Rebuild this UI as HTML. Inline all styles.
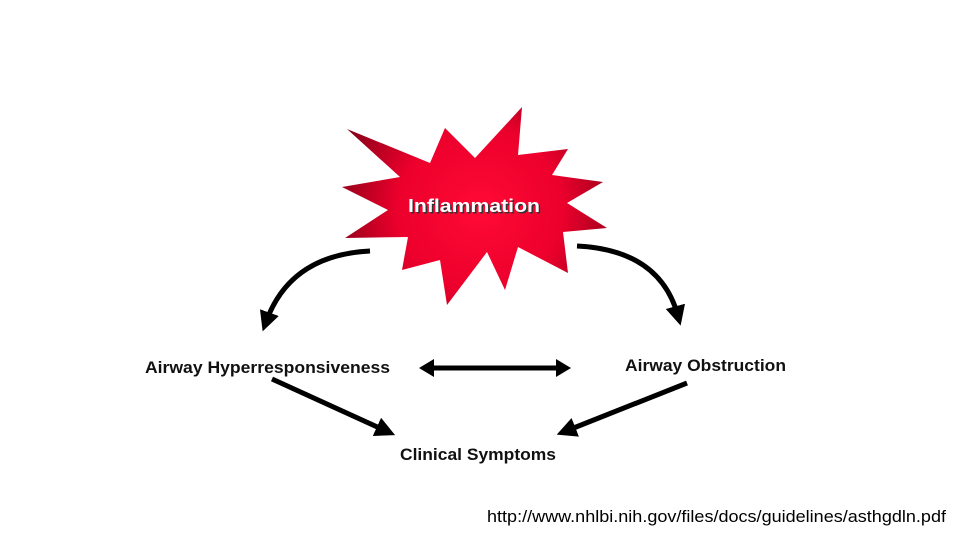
<!DOCTYPE html>
<html><head><meta charset="utf-8"><style>
html,body{margin:0;padding:0;background:#fff;}
svg{display:block;}
</style></head><body>
<svg width="960" height="540" viewBox="0 0 960 540" xmlns="http://www.w3.org/2000/svg">
<defs>
<radialGradient id="g" cx="480" cy="210" r="150" gradientUnits="userSpaceOnUse">
<stop offset="0" stop-color="#ff0a35"/>
<stop offset="0.55" stop-color="#ec002c"/>
<stop offset="1" stop-color="#8a0018"/>
</radialGradient>
<marker id="ah" markerWidth="4" markerHeight="4" refX="2" refY="2" orient="auto" markerUnits="strokeWidth">
<path d="M0,0 L4,2 L0,4 z" fill="#000"/>
</marker>
</defs>
<polygon fill="url(#g)" points="347,129 430,163 445,128 475,158 522,107 518,155 568,149 552,175 603,182 567,203 607,228 563,232 568,273 518,247 505,290 487,252 447,305 440,260 402,270 408,237 345,238 388,210 342,187 400,177"/>
<text x="408" y="212" textLength="132" lengthAdjust="spacingAndGlyphs" font-family="Liberation Sans, sans-serif" font-weight="bold" font-size="18" fill="#333" transform="translate(1.5,1.5)">Inflammation</text>
<text x="408" y="212" textLength="132" lengthAdjust="spacingAndGlyphs" font-family="Liberation Sans, sans-serif" font-weight="bold" font-size="18" fill="#fff">Inflammation</text>

<g fill="none" stroke="#000" stroke-width="5">
<path d="M370,251 Q290,255 266,322" marker-end="url(#ah)"/>
<path d="M577,246 Q660,250 678,316" marker-end="url(#ah)"/>
<path d="M272,379 L386,431" marker-end="url(#ah)"/>
<path d="M687,383 L566,431" marker-end="url(#ah)"/>
<path d="M430,368 L560,368"/>
</g>
<polygon points="419,368 434,359 434,377" fill="#000"/>
<polygon points="571,368 556,359 556,377" fill="#000"/>

<g font-family="Liberation Sans, sans-serif" font-weight="bold" font-size="17" fill="#111" lengthAdjust="spacingAndGlyphs">
<text x="145" y="373" textLength="245" lengthAdjust="spacingAndGlyphs">Airway Hyperresponsiveness</text>
<text x="625" y="371" textLength="161" lengthAdjust="spacingAndGlyphs">Airway Obstruction</text>
<text x="400" y="460" textLength="156" lengthAdjust="spacingAndGlyphs">Clinical Symptoms</text>
</g>
<text x="487" y="522" textLength="459" lengthAdjust="spacingAndGlyphs" font-family="Liberation Sans, sans-serif" font-size="17" fill="#000">http://www.nhlbi.nih.gov/files/docs/guidelines/asthgdln.pdf</text>
</svg>
</body></html>
